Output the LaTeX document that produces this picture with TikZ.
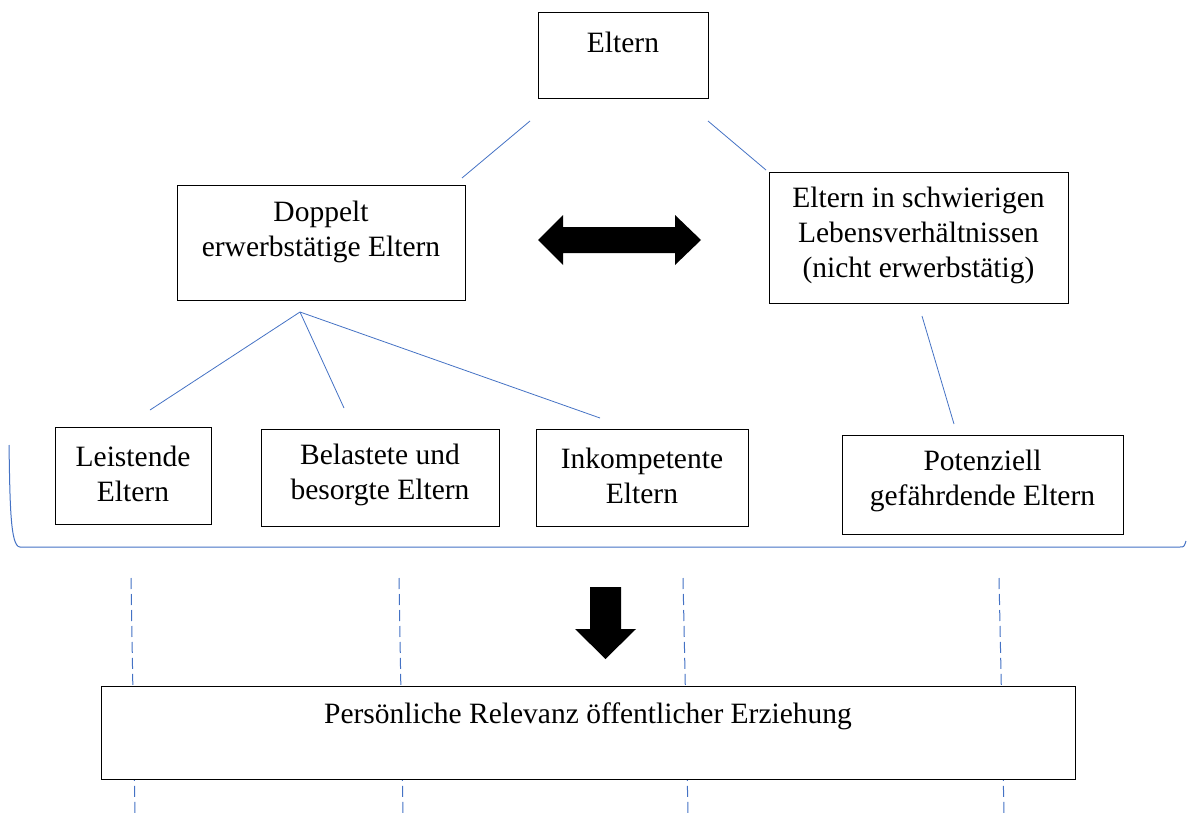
\documentclass[tikz,border=0pt]{standalone}
\usepackage{fontspec}
\setmainfont{Liberation Serif}
\definecolor{lineblue}{HTML}{4472C4}
\begin{document}
\begin{tikzpicture}[x=1pt,y=-1pt,
  box/.style={draw=black,line width=1pt,fill=white,inner sep=0pt},
  txt/.style={align=center,inner sep=0pt,font=\fontsize{29.5}{35}\selectfont},
  conn/.style={draw=lineblue,line width=0.8pt},
  dashconn/.style={draw=lineblue,line width=1pt,dash pattern=on 11pt off 5pt},
  bigarrow/.style={fill=black,draw=none}]
\useasboundingbox (0,0) rectangle (1187,814);
% dashed lines (behind bottom box)
\coordinate (d1a) at (131,578); \coordinate (d1b) at (135,814);
\coordinate (d2a) at (399,578); \coordinate (d2b) at (403,814);
\coordinate (d3a) at (683,578); \coordinate (d3b) at (688,814);
\coordinate (d4a) at (999,578); \coordinate (d4b) at (1004,814);
\draw[dashconn] (d1a) -- (d1b);
\draw[dashconn] (d2a) -- (d2b);
\draw[dashconn] (d3a) -- (d3b);
\draw[dashconn] (d4a) -- (d4b);
% boxes
\node[box,minimum width=170pt,minimum height=86pt] (eltern) at (623,55) {};
\node[txt] (elternT) at (623,42) {Eltern};
\node[box,minimum width=288pt,minimum height=115pt] (doppelt) at (321,242.5) {};
\node[txt] (doppeltT) at (321,232) {Doppelt\\erwerbstätige Eltern};
\node[box,minimum width=299pt,minimum height=131pt] (schwer) at (918.5,237.5) {};
\node[txt] (schwerT) at (918.5,235) {Eltern in schwierigen\\Lebensverhältnissen\\(nicht erwerbstätig)};
\node[box,minimum width=156pt,minimum height=97pt] (leist) at (133,475.5) {};
\node[txt] (leistT) at (133,474) {Leistende\\Eltern};
\node[box,minimum width=238pt,minimum height=97pt] (belast) at (380,477.5) {};
\node[txt] (belastT) at (380,475) {Belastete und\\besorgte Eltern};
\node[box,minimum width=212pt,minimum height=97pt] (inkomp) at (642,477.5) {};
\node[txt] (inkompT) at (642,476) {Inkompetente\\Eltern};
\node[box,minimum width=281pt,minimum height=99pt] (potenz) at (982.5,484.5) {};
\node[txt] (potenzT) at (982.5,481) {Potenziell\\gefährdende Eltern};
\node[box,minimum width=974pt,minimum height=93pt] (pers) at (588,732.5) {};
\node[txt] (persT) at (588,716) {Persönliche Relevanz öffentlicher Erziehung};
% connector lines
\coordinate (c1a) at (530,121); \coordinate (c1b) at (462,178);
\coordinate (c2a) at (708,121); \coordinate (c2b) at (766,170);
\coordinate (c3) at (300,312);
\coordinate (c3a) at (150,410); \coordinate (c3b) at (344,408); \coordinate (c3c) at (600,418);
\coordinate (c4a) at (922,316); \coordinate (c4b) at (954,424);
\draw[conn] (c1a) -- (c1b);
\draw[conn] (c2a) -- (c2b);
\draw[conn] (c3) -- (c3a);
\draw[conn] (c3) -- (c3b);
\draw[conn] (c3) -- (c3c);
\draw[conn] (c4a) -- (c4b);
% bracket
\draw[conn,line width=1pt] (9,445) .. controls (10,500) and (10,547) .. (20,547) -- (1180,547) .. controls (1184,547) .. (1186,541);
% double arrow
\fill[bigarrow] (538,240) -- (563,215) -- (563,227) -- (675,227) -- (675,215) -- (701,240) -- (675,265) -- (675,253) -- (563,253) -- (563,265) -- cycle;
% down arrow
\fill[bigarrow] (590,587) -- (621,587) -- (621,629) -- (636,629) -- (605.5,659) -- (575,629) -- (590,629) -- cycle;
\end{tikzpicture}
\end{document}
